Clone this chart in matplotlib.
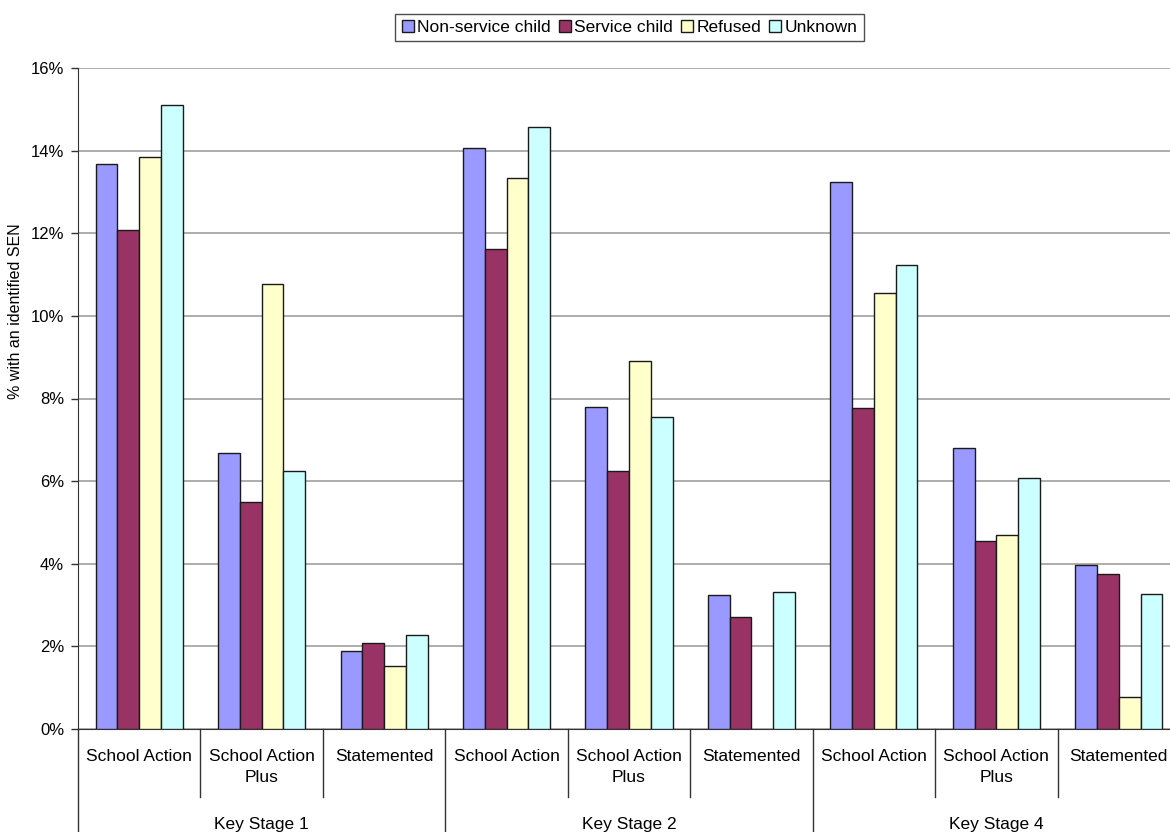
import numpy as np
import matplotlib

matplotlib.use("Agg")
import matplotlib.pyplot as plt
from matplotlib.lines import Line2D
from matplotlib.ticker import FuncFormatter

plt.rcParams["font.family"] = ["Liberation Sans", "DejaVu Sans"]

# --- data (% with an identified SEN) ---
key_stages = ["Key Stage 1", "Key Stage 2", "Key Stage 4"]
provisions = ["School Action", "School Action\nPlus", "Statemented"]
series_names = ["Non-service child", "Service child", "Refused", "Unknown"]

non_service = [13.68, 6.67, 1.88, 14.07, 7.80, 3.25, 13.23, 6.79, 3.98]
service = [12.07, 5.50, 2.08, 11.63, 6.25, 2.70, 7.77, 4.55, 3.76]
refused = [13.85, 10.77, 1.53, 13.34, 8.90, np.nan, 10.55, 4.69, 0.77]
unknown = [15.10, 6.25, 2.27, 14.58, 7.55, 3.32, 11.22, 6.07, 3.26]

colors = ["#9999FF", "#993366", "#FFFFCC", "#CCFFFF"]

W, H = 1170, 832
fig = plt.figure(figsize=(W / 100, H / 100), dpi=100)
# plot area runs a little past the right edge, as in the original
ax = fig.add_axes([78 / W, (H - 729) / H, 1102 / W, 661 / H])

n_cat = len(non_service)
x = np.arange(n_cat)
bar_w = 0.178
all_series = [non_service, service, refused, unknown]
for i, (vals, col, name) in enumerate(zip(all_series, colors, series_names)):
    offs = (i - 1.5) * bar_w
    ax.bar(x + offs, vals, width=bar_w, color=col, edgecolor="#1a1a1a",
           linewidth=1.0, label=name, zorder=3)

ax.set_xlim(-0.5, n_cat - 0.5)
ax.set_ylim(0, 16)
ax.set_yticks(np.arange(0, 17, 2))
ax.yaxis.set_major_formatter(FuncFormatter(lambda v, _: f"{v:.0f}%"))
ax.yaxis.grid(True, color="#a0a0a0", linewidth=1.2, zorder=0)
ax.tick_params(axis="y", length=5, width=1, labelsize=12, pad=5, color="#333333")
ax.set_xticks([])
for side in ["top", "right"]:
    ax.spines[side].set_visible(False)
ax.spines["left"].set_color("#333333")
ax.spines["bottom"].set_color("#333333")
fig.text(16 / W, 1 - 311 / H, "% with an identified SEN", rotation=90,
         ha="center", va="center", fontsize=11.5)

# two-level category axis
tr = ax.get_xaxis_transform()
for j in range(n_cat):
    ax.text(x[j], -0.03, provisions[j % 3], transform=tr, ha="center",
            va="top", fontsize=12.5, linespacing=1.55)
for j in range(1, n_cat):
    if j % 3 == 0:
        continue
    ax.add_line(Line2D([j - 0.5, j - 0.5], [0, -0.103], transform=tr,
                       color="#333333", linewidth=1, clip_on=False))
for g in range(4):
    xs = g * 3 - 0.5
    ax.add_line(Line2D([xs, xs], [0, -0.2], transform=tr,
                       color="#333333", linewidth=1, clip_on=False))
for g, ks in enumerate(key_stages):
    ax.text(g * 3 + 1, -0.133, ks, transform=tr, ha="center", va="top",
            fontsize=12.5)

leg = fig.legend(loc="center", bbox_to_anchor=(629.5 / W, 1 - 27.5 / H), ncol=4,
                 fontsize=12.5, frameon=True, fancybox=False, handlelength=0.7,
                 handleheight=0.7, handletextpad=0.2, columnspacing=0.45,
                 borderpad=0.35, borderaxespad=0)
leg.get_frame().set_edgecolor("#222222")
leg.get_frame().set_linewidth(1.0)

fig.savefig("out.png", dpi=100)
